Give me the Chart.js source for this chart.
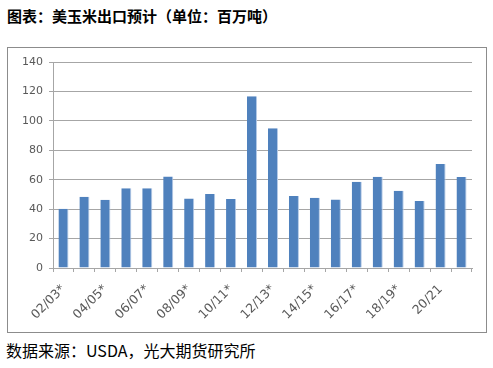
<!DOCTYPE html>
<html>
<head>
<meta charset="utf-8">
<script src="https://cdn.jsdelivr.net/npm/chart.js@4"></script>
<style>
  body { margin: 0; background: #fff; width: 493px; height: 368px; position: relative; overflow: hidden; }
  #title { position: absolute; left: 7px; top: 5px; font: bold 15px "Noto Sans CJK SC", sans-serif; color: #000; }
  #box { position: absolute; left: 7px; top: 47px; width: 478px; height: 284px; border: 1px solid #8c8c8c; }
  #source { position: absolute; left: 6px; top: 338px; font: 16px "Noto Sans CJK SC", sans-serif; color: #000; }
</style>
</head>
<body>
<div id="title">图表：美玉米出口预计（单位：百万吨）</div>
<div id="box"><canvas id="chart" width="478" height="284"></canvas></div>
<div id="source">数据来源：USDA，光大期货研究所</div>
<script>
// marketing years (only every second one gets a label)
const years = ['02/03*', '03/04*', '04/05*', '05/06*', '06/07*', '07/08*', '08/09*', '09/10*', '10/11*', '11/12*',
    '12/13*', '13/14*', '14/15*', '15/16*', '16/17*', '17/18*', '18/19*', '19/20*', '20/21', '21/22'];
const exports = [40.2, 48.5, 46.4, 54.2, 54.2, 62.2, 47.3, 50.3, 46.9, 116.7,
    95.0, 49.0, 47.8, 46.5, 58.6, 62.0, 52.5, 45.5, 70.6, 61.8];
const yTicks = [0, 20, 40, 60, 80, 100, 120, 140];

new Chart(document.getElementById('chart'), {
    type: 'bar',
    data: {
        labels: years,
        datasets: [{
            data: exports,
            backgroundColor: '#4f81bd',
            borderColor: '#b4c9e6',
            borderWidth: { top: 0, right: 1, bottom: 0, left: 0 },
            borderSkipped: false,
            barPercentage: 0.48,
            categoryPercentage: 1
        }]
    },
    options: {
        responsive: false,
        animation: false,
        layout: { padding: { top: 14, right: 14, left: 0, bottom: 0 } },
        plugins: { legend: { display: false }, tooltip: { enabled: false } },
        scales: {
            x: {
                grid: { drawOnChartArea: false, color: '#a6a6a6', tickLength: 4, offset: true },
                border: { color: '#a6a6a6' },
                ticks: {
                    autoSkip: false,
                    minRotation: 45,
                    maxRotation: 45,
                    color: '#595959',
                    font: { family: 'DejaVu Sans', size: 12.5 },
                    padding: 10,
                    callback: function (v, i) { return i % 2 === 0 ? years[i] : ''; }
                },
                afterFit: function (s) { s.height = 64; }
            },
            y: {
                min: 0,
                max: 140,
                afterBuildTicks: function (s) { s.ticks = yTicks.map(v => ({ value: v })); },
                grid: { color: '#a6a6a6', tickLength: 4 },
                border: { color: '#a6a6a6' },
                ticks: { color: '#595959', font: { family: 'DejaVu Sans', size: 11 }, padding: 6 },
                afterFit: function (s) { s.width = 45; }
            }
        }
    }
});
</script>
</body>
</html>
